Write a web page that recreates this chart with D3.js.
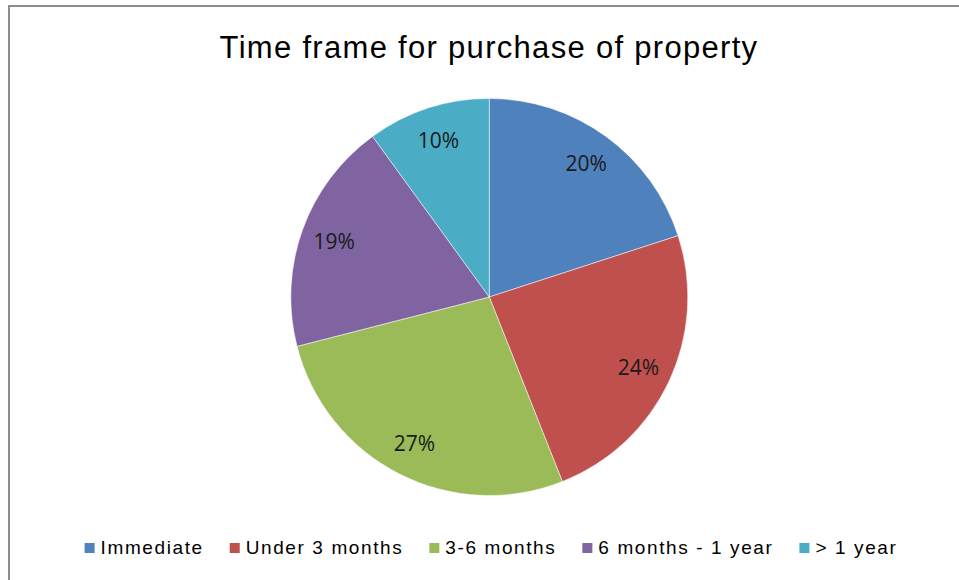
<!DOCTYPE html>
<html>
<head>
<meta charset="utf-8">
<script src="https://cdn.jsdelivr.net/npm/d3@7"></script>
<style>
  html, body { margin: 0; padding: 0; background: #fff; }
  svg { display: block; }
</style>
</head>
<body>
<svg id="chart" width="959" height="580"></svg>
<script>
const categories = ["Immediate", "Under 3 months", "3-6 months", "6 months - 1 year", "> 1 year"];
const values = [20, 24, 27, 19, 10];
const colors = ["#4F81BD", "#C0504D", "#9BBB59", "#8064A2", "#4BACC6"];
const title = "Time frame for purchase of property";

const svg = d3.select("#chart");
const W = 959, H = 580;

// frame (only top and left edges visible in the reference)
svg.append("rect")
  .attr("x", 9).attr("y", 6)
  .attr("width", W + 20).attr("height", H + 20)
  .attr("fill", "#fff")
  .attr("stroke", "#8c8c8c")
  .attr("stroke-width", 2);

svg.append("text")
  .attr("x", 489).attr("y", 58)
  .attr("text-anchor", "middle")
  .attr("font-family", "'Liberation Sans', Arial, sans-serif")
  .attr("font-size", 31)
  .attr("letter-spacing", "1.3px")
  .attr("fill", "#000")
  .text(title);

const cx = 489.3, cy = 297, r = 198.5;
const data = categories.map((c, i) => ({ cat: c, value: values[i], color: colors[i] }));
const pie = d3.pie().value(d => d.value).sort(null);
const arc = d3.arc().innerRadius(0).outerRadius(r);
const labelArc = d3.arc().innerRadius(r * 0.83).outerRadius(r * 0.83);

const g = svg.append("g").attr("transform", `translate(${cx},${cy})`);
const arcs = pie(data);
g.selectAll("path.slice").data(arcs).enter().append("path")
  .attr("class", "slice")
  .attr("d", arc)
  .attr("fill", d => d.data.color)
  .attr("stroke", "#fff")
  .attr("stroke-width", 0.5);

g.selectAll("text.lbl").data(arcs).enter().append("text")
  .attr("class", "lbl")
  .attr("transform", d => `translate(${labelArc.centroid(d)})`)
  .attr("text-anchor", "middle")
  .attr("dy", "0.35em")
  .attr("font-family", "'Open Sans', 'Noto Sans', sans-serif")
  .attr("font-size", 21)
  .attr("fill", "#1a1a1a")
  .text(d => d.data.value + "%");

// legend
const legend = svg.append("g");
const items = legend.selectAll("g.item").data(data).enter().append("g").attr("class", "item");
items.append("rect")
  .attr("width", 10).attr("height", 10)
  .attr("y", -11)
  .attr("fill", d => d.color);
items.append("text")
  .attr("x", 16)
  .attr("y", 0)
  .attr("font-family", "'Liberation Sans', Arial, sans-serif")
  .attr("font-size", 19)
  .attr("letter-spacing", "1.6px")
  .attr("fill", "#000")
  .text(d => d.cat);
const gap = 26;
const widths = [];
items.each(function() { widths.push(this.getBBox().width); });
const total = d3.sum(widths) + gap * (widths.length - 1);
const start = 491 - total / 2;
items.attr("transform", (d, i) => {
  const x = start + d3.sum(widths.slice(0, i)) + gap * i;
  return `translate(${x},${554})`;
});
</script>
</body>
</html>
